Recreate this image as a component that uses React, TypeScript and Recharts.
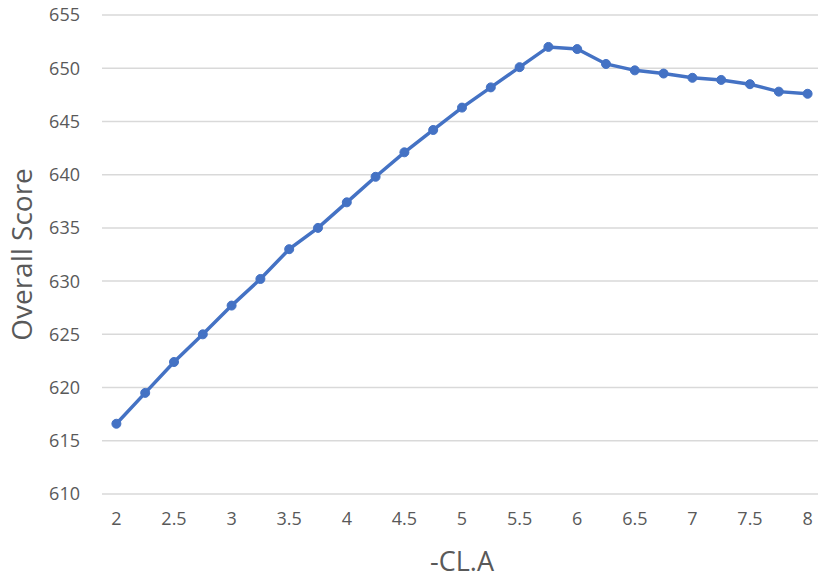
import React from 'react';
import { LineChart, Line, XAxis, YAxis, CartesianGrid } from 'recharts';

const clA = [2, 2.25, 2.5, 2.75, 3, 3.25, 3.5, 3.75, 4, 4.25, 4.5, 4.75, 5, 5.25, 5.5, 5.75, 6, 6.25, 6.5, 6.75, 7, 7.25, 7.5, 7.75, 8];
const overallScore = [
  616.6, 619.5, 622.4, 625.0, 627.7, 630.2, 633.0, 635.0, 637.4, 639.8, 642.1, 644.2, 646.3,
  648.2, 650.1, 652.0, 651.8, 650.4, 649.8, 649.5, 649.1, 648.9, 648.5, 647.8, 647.6,
];
const xTicks = [2, 2.5, 3, 3.5, 4, 4.5, 5, 5.5, 6, 6.5, 7, 7.5, 8];
const yTicks = [610, 615, 620, 625, 630, 635, 640, 645, 650, 655];

const data = clA.map((x, i) => ({ x, score: overallScore[i] }));

const font = "'Open Sans', sans-serif";
const textColor = '#595959';

export default function App() {
  return (
    <div style={{ position: 'absolute', left: 0, top: 0, background: '#fff' }}>
      <LineChart width={830} height={579} data={data} margin={{ top: 15, right: 8, left: 0, bottom: 0 }}>
        <CartesianGrid stroke="#d9d9d9" strokeWidth={1.5} vertical={false} />
        <XAxis
          dataKey="x"
          type="number"
          domain={[1.875, 8.125]}
          ticks={xTicks}
          axisLine={false}
          tickLine={false}
          tickMargin={12}
          height={85}
          tick={{ fill: textColor, fontSize: 18, fontFamily: font }}
          label={{ value: '-CL.A', position: 'center', dy: 25, fill: textColor, fontSize: 27, fontFamily: font }}
        />
        <YAxis
          type="number"
          domain={[610, 655]}
          ticks={yTicks}
          axisLine={false}
          tickLine={false}
          tickMargin={16}
          width={102}
          tick={{ fill: textColor, fontSize: 18, fontFamily: font }}
          label={{ value: 'Overall Score', angle: -90, position: 'center', dx: -29, fill: textColor, fontSize: 28, fontFamily: font }}
        />
        <Line
          dataKey="score"
          stroke="#4472C4"
          strokeWidth={3.5}
          dot={{ r: 4.5, fill: '#4472C4', stroke: '#4472C4', strokeWidth: 1 }}
          isAnimationActive={false}
        />
      </LineChart>
    </div>
  );
}
